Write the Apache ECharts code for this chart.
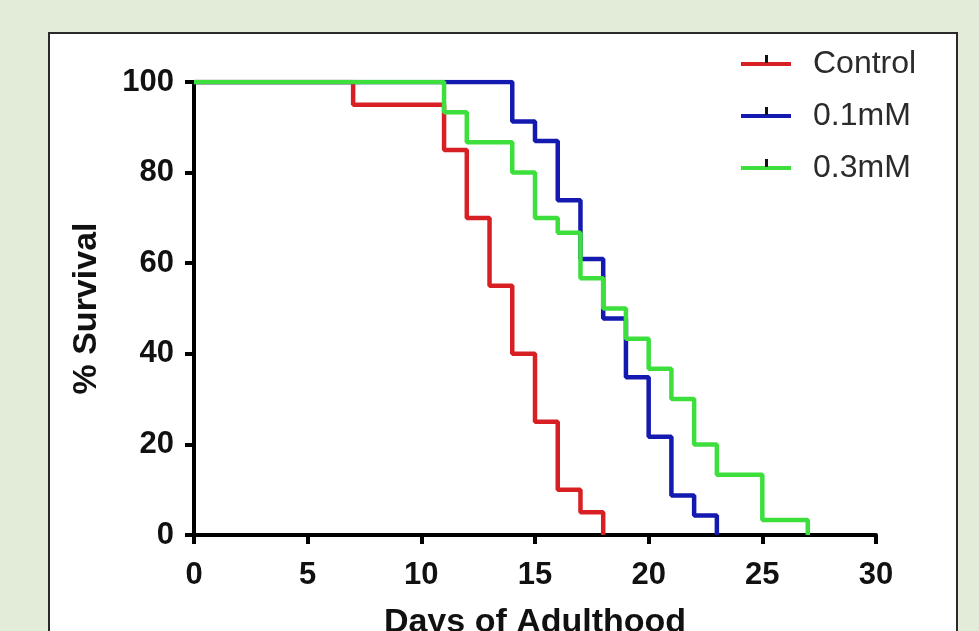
<!DOCTYPE html>
<html>
<head>
<meta charset="utf-8">
<script src="https://cdn.jsdelivr.net/npm/echarts@6/dist/echarts.min.js"></script>
<style>
  html, body { margin: 0; padding: 0; background: #e2ecd9; }
  #chart { width: 979px; height: 631px; }
</style>
</head>
<body>
<div id="chart"></div>
<script>
// survival curves (Kaplan-Meier steps)
const seriesNames = ["Control", "0.1mM", "0.3mM"];
const controlDays = [0, 7, 11, 12, 13, 14, 15, 16, 17, 18];
const controlSurvival = [100, 95, 85, 70, 55, 40, 25, 10, 5, 0];
const lowDays = [0, 14, 15, 16, 17, 18, 19, 20, 21, 22, 23];
const lowSurvival = [100, 91.3, 87, 73.9, 60.9, 47.8, 34.8, 21.7, 8.7, 4.3, 0];
const highDays = [0, 11, 12, 14, 15, 16, 17, 18, 19, 20, 21, 22, 23, 25, 27];
const highSurvival = [100, 93.3, 86.7, 80, 70, 66.7, 56.7, 50, 43.3, 36.7, 30, 20, 13.3, 3.3, 0];
const xTicks = [0, 5, 10, 15, 20, 25, 30];
const yTicks = [0, 20, 40, 60, 80, 100];

const colors = ["#d82024", "#1419b0", "#3ddf3d"];
const pairs = (xs, ys) => xs.map((x, i) => [x, ys[i]]);
const curves = [
  pairs(controlDays, controlSurvival),
  pairs(lowDays, lowSurvival),
  pairs(highDays, highSurvival),
];

const chart = echarts.init(document.getElementById("chart"));

// legend layout
const legendLeft = 741;
const legendTop = 47;
const rowH = 34;
const rowGap = 18;

// little black censor tick sitting on each legend line
const legendTicks = seriesNames.map((_, i) => ({
  type: "rect",
  z: 100,
  shape: {
    x: legendLeft + 24,
    y: legendTop + i * (rowH + rowGap) + rowH / 2 - 9,
    width: 3,
    height: 8,
  },
  style: { fill: "#111" },
}));

const option = {
  backgroundColor: "#e2ecd9",
  animation: false,
  textStyle: { fontFamily: "Liberation Sans, Arial, sans-serif" },
  graphic: [
    {
      type: "rect",
      z: -10,
      shape: { x: 49, y: 33, width: 908, height: 650 },
      style: { fill: "#ffffff", stroke: "#2a2a2a", lineWidth: 2 },
    },
    ...legendTicks,
  ],
  grid: { left: 194, right: 103, top: 82, bottom: 96, outerBoundsMode: "none" },
  legend: {
    left: legendLeft,
    top: legendTop,
    padding: 0,
    orient: "vertical",
    icon: "rect",
    itemWidth: 50,
    itemHeight: 4,
    itemGap: rowGap,
    textStyle: {
      fontSize: 32,
      color: "#2b2b2b",
      padding: [0, 0, 0, 17],
      lineHeight: rowH,
    },
    data: seriesNames,
  },
  xAxis: {
    type: "value",
    min: 0,
    max: 30,
    interval: 5,
    name: "Days of Adulthood",
    nameLocation: "middle",
    nameGap: 88,
    nameTextStyle: {
      fontSize: 34,
      fontWeight: "bold",
      color: "#111",
      verticalAlign: "middle",
    },
    axisLine: { lineStyle: { color: "#000", width: 4 } },
    axisTick: { length: 9, lineStyle: { color: "#000", width: 4 } },
    axisLabel: {
      margin: 25,
      fontSize: 31,
      fontWeight: "bold",
      color: "#111",
      formatter: (v) => (xTicks.includes(v) ? String(v) : ""),
    },
    splitLine: { show: false },
  },
  yAxis: {
    type: "value",
    min: 0,
    max: 100,
    interval: 20,
    name: "% Survival",
    nameLocation: "middle",
    nameGap: 107,
    nameRotate: 90,
    nameTextStyle: {
      fontSize: 34,
      fontWeight: "bold",
      color: "#111",
      verticalAlign: "middle",
    },
    axisLine: { lineStyle: { color: "#000", width: 4 } },
    axisTick: { length: 9, lineStyle: { color: "#000", width: 4 } },
    axisLabel: {
      margin: 20,
      fontSize: 31,
      fontWeight: "bold",
      color: "#111",
      formatter: (v) => (yTicks.includes(v) ? String(v) : ""),
    },
    splitLine: { show: false },
  },
  series: curves.map((data, i) => ({
    name: seriesNames[i],
    type: "line",
    step: "end",
    data: data,
    symbol: "none",
    color: colors[i],
    lineStyle: { color: colors[i], width: 4.5 },
    z: 2 + i,
  })),
};

chart.setOption(option);
</script>
</body>
</html>
